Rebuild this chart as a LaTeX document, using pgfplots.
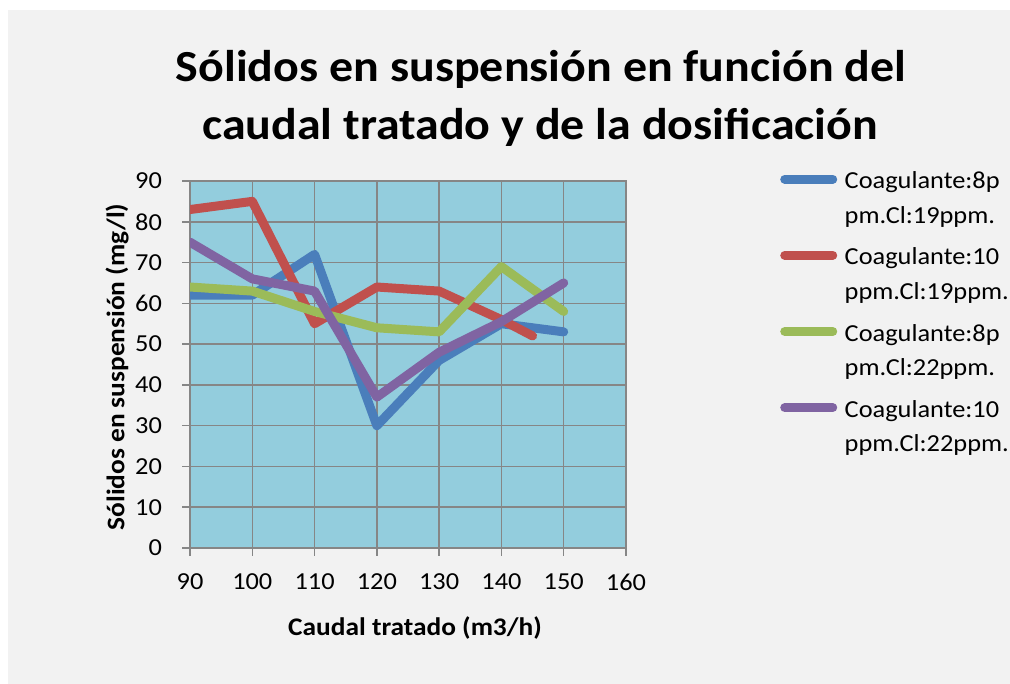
\documentclass[border=0pt]{standalone}
\usepackage{pgfplots}
\pgfplotsset{compat=1.18}
\usepackage{fontspec}
\setmainfont{Carlito}[FakeStretch=1.08]
\definecolor{bgpanel}{HTML}{F2F2F2}
\definecolor{plotbg}{HTML}{93CDDD}
\definecolor{gridc}{HTML}{868686}
\definecolor{s1}{HTML}{4A7EBB}
\definecolor{s2}{HTML}{C0504D}
\definecolor{s3}{HTML}{9BBB59}
\definecolor{s4}{HTML}{8064A2}
\begin{document}
\begin{tikzpicture}[x=0.75pt,y=0.75pt]
\path[use as bounding box] (0,0) rectangle (1010,684);
\fill[white] (-5,-5) rectangle (1015,689);
\fill[bgpanel] (8,-8) rectangle (1018,674);
\node[font=\fontsize{33.3}{43.5}\selectfont\bfseries, anchor=base] at (541,602)
  {Sólidos en suspensión en función del};
\node[font=\fontsize{33.3}{43.5}\selectfont\bfseries, anchor=base] at (540,544)
  {caudal tratado y de la dosificación};
\begin{axis}[
  at={(142.5pt,102pt)}, anchor=south west,
  scale only axis, width=327pt, height=275.25pt,
  xmin=90, xmax=160, ymin=0, ymax=90,
  xtick={90,100,...,160}, ytick={0,10,...,90},
  /pgf/number format/assume math mode=true,
  tick label style={font=\fontsize{18.3}{22}\selectfont},
  xticklabel style={yshift=-10pt},
  yticklabel style={xshift=-11.5pt},
  tick align=outside, tick pos=left,
  major tick length=6pt,
  every tick/.style={gridc, line width=1.1pt},
  axis line style={gridc, line width=1.1pt},
  grid=major,
  major grid style={gridc, line width=1.1pt},
  axis background/.style={fill=plotbg},
  xlabel={Caudal tratado (m3/h)},
  ylabel={Sólidos en suspensión (mg/l)},
  label style={font=\fontsize{19}{22}\selectfont\bfseries},
  xlabel style={at={(axis description cs:0.516,-0.218)}, anchor=center},
  ylabel style={at={(axis description cs:-0.167,0.493)}, anchor=center, rotate=0},
  every axis plot/.append style={line width=6.75pt, line join=round, line cap=round},
  legend image code/.code={\draw[#1, line width=6.75pt, line cap=round] (0pt,14.5pt) -- (36pt,14.5pt);},
  legend style={at={(rel axis cs:1.344,1.033)}, anchor=north west, draw=none, fill=none,
    font=\fontsize{18.3}{25.9}\selectfont, nodes={inner sep=0pt, align=left},
    column sep=5.6pt, row sep=17pt},
  legend cell align=left,
]
\addplot[s1] coordinates {(90,62)(100,62)(110,72)(120,30)(130,46)(140,55)(150,53)};
\addlegendentry{Coagulante:8p\\pm.Cl:19ppm.}
\addplot[s2] coordinates {(90,83)(100,85)(110,55)(120,64)(130,63)(140,56)(145,52)};
\addlegendentry{Coagulante:10\\ppm.Cl:19ppm.}
\addplot[s3] coordinates {(90,64)(100,63)(110,58)(120,54)(130,53)(140,69)(150,58)};
\addlegendentry{Coagulante:8p\\pm.Cl:22ppm.}
\addplot[s4] coordinates {(90,75)(100,66)(110,63)(120,37)(130,48)(140,55.5)(150,65)};
\addlegendentry{Coagulante:10\\ppm.Cl:22ppm.}
\end{axis}
\end{tikzpicture}
\end{document}
